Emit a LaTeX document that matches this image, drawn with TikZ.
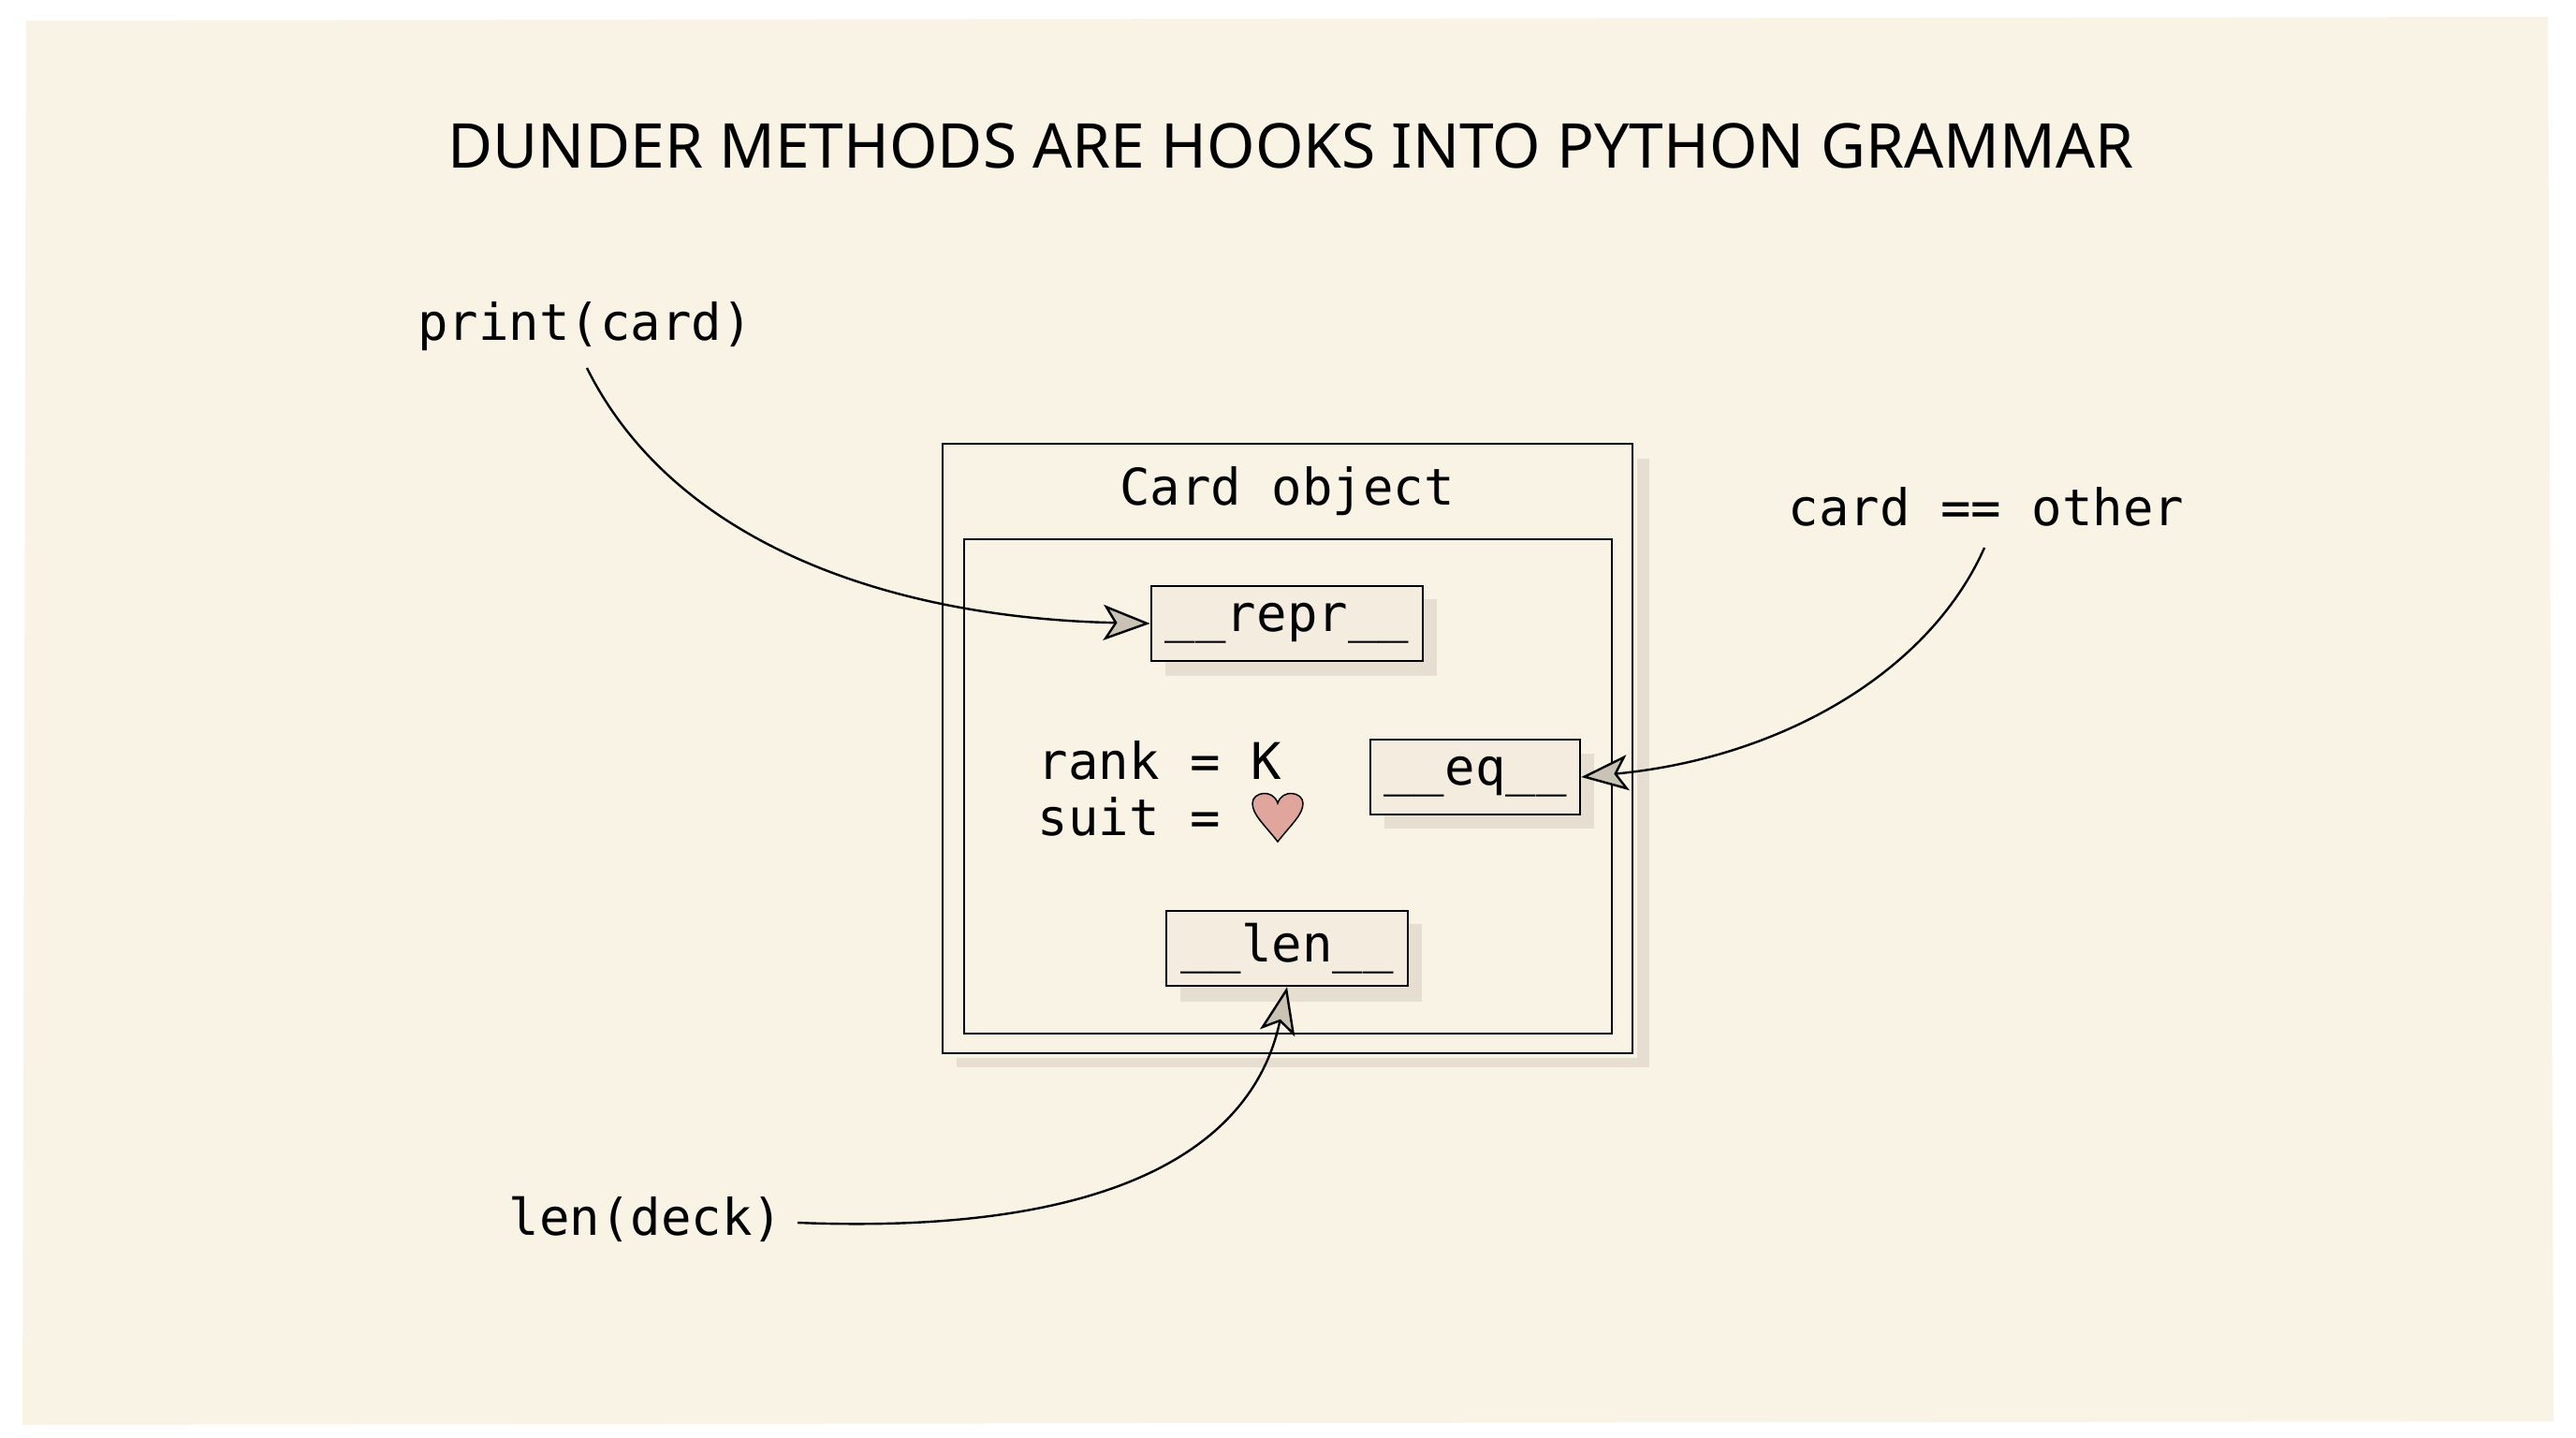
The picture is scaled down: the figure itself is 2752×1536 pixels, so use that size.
\documentclass[tikz,border=0pt]{standalone}
\usepackage{fontspec}
\setmainfont{Noto Sans}
\setmonofont{DejaVu Sans Mono}
\usetikzlibrary{arrows.meta}
\definecolor{paper}{HTML}{F9F3E6}
\definecolor{shade}{HTML}{E6DFD1}
\definecolor{boxfill}{HTML}{F3ECDF}
\definecolor{tipfill}{HTML}{C9C3B5}
\definecolor{heart}{HTML}{E0A59C}
\begin{document}
\begin{tikzpicture}[x=1pt,y=-1pt,
  code/.style={font=\fontsize{54}{60}\selectfont\ttfamily, text=black},
  method/.style={code, draw=black, line width=2.6pt, fill=boxfill, inner sep=0pt, minimum height=80pt},
  link/.style={line width=2.4pt, -{Stealth[length=50pt,width=38pt,inset=12pt,fill=tipfill]}},
  sh/.style={fill=shade}]
\useasboundingbox (0,0) rectangle (2752,1536);
\fill[white] (0,0) rectangle (2752,1536);
\fill[paper] (28,22) -- (2722,18) -- (2728,1518) -- (24,1522) -- cycle;
\node[font=\fontsize{66}{74}\selectfont] (title) at (1379,156) {DUNDER METHODS ARE HOOKS INTO PYTHON GRAMMAR};
\fill[sh] (1749,490) rectangle (1762,1140);
\fill[sh] (1022,1130) rectangle (1762,1140);
\draw[line width=2.6pt] (1007,474) rectangle (1744,1125);
\draw[line width=2.6pt] (1030,576) rectangle (1722,1104);
\node[code] (obj) at (1375,525) {Card object};
% shadows
\fill[sh] (1245,640) rectangle (1535,722);
\fill[sh] (1479,805) rectangle (1703,885);
\fill[sh] (1261,987) rectangle (1519,1070);
\node[method, minimum width=290pt] (repr) at (1375,666) {\_\_repr\_\_};
\node[method, minimum width=224pt] (eq) at (1576,830) {\_\_eq\_\_};
\node[method, minimum width=258pt] (len) at (1375,1013) {\_\_len\_\_};
\node[code, anchor=west, align=left] (attrs) at (1105,842) {rank = K\\suit = };
\fill[heart, draw=black, line width=1.5pt] (1365,899) .. controls (1350,880) and (1338,870) .. (1338,858)
  .. controls (1338,846) and (1360,842) .. (1365,858)
  .. controls (1370,842) and (1392,846) .. (1392,858)
  .. controls (1392,870) and (1380,880) .. (1365,899) -- cycle;
\node[code] (print) at (625,349) {print(card)};
\node[code] (cmp) at (2122,541) {card == other};
\node[code] (lend) at (690,1302) {len(deck)};
\draw[link] (627,393) .. controls (720,580) and (950,660) .. (repr.west);
\draw[link] (2120,585) .. controls (2060,720) and (1900,810) .. (eq.east);
\draw[link] (852,1306) .. controls (1200,1320) and (1340,1220) .. (len.south);
\end{tikzpicture}
\end{document}
